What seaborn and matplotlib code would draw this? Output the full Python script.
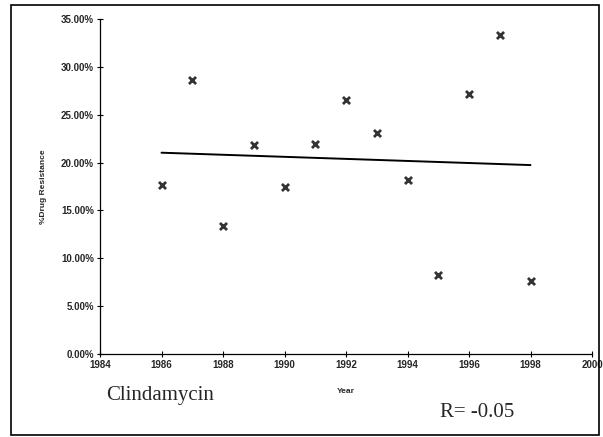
import matplotlib
matplotlib.use("Agg")
import matplotlib.pyplot as plt
import seaborn as sns
import pandas as pd
from matplotlib.ticker import PercentFormatter, MultipleLocator
from matplotlib.patches import Rectangle

years = [1986, 1987, 1988, 1989, 1990, 1991, 1992, 1993, 1994, 1995, 1996, 1997, 1998]
resistance = [0.177, 0.286, 0.134, 0.218, 0.174, 0.219, 0.265, 0.231, 0.182, 0.083, 0.272, 0.333, 0.076]
x_ticks = [1984, 1986, 1988, 1990, 1992, 1994, 1996, 1998, 2000]
drug_name = "Clindamycin"
r_text = "R= -0.05"

df = pd.DataFrame({"Year": years, "Resistance": resistance})

sns.set_style("ticks")
plt.rcParams["font.family"] = ["Liberation Sans", "DejaVu Sans"]

fig = plt.figure(figsize=(6.03, 4.37), dpi=100)
ax = fig.add_axes([100/603, (437-354)/437, (592-100)/603, (354-19)/437])

sns.regplot(data=df, x="Year", y="Resistance", ax=ax, ci=None, truncate=True,
            marker="x",
            scatter_kws=dict(s=26, color="black", linewidths=2.0),
            line_kws=dict(color="black", lw=1.4))

ax.set_xlim(1984, 2000)
ax.set_ylim(0, 0.35)
ax.set_xticks(x_ticks)
ax.yaxis.set_major_locator(MultipleLocator(0.05))
ax.yaxis.set_major_formatter(PercentFormatter(1.0, decimals=2))
ax.tick_params(direction="inout", length=5, width=0.8, labelsize=7, pad=2, color="black")
for lab in ax.get_xticklabels() + ax.get_yticklabels():
    lab.set_fontweight("bold")
ax.set_xlabel("Year", fontsize=6, fontweight="bold", labelpad=13)
ax.set_ylabel("%Drug Resistance", fontsize=6, fontweight="bold", labelpad=10)
for s in ["top", "right"]:
    ax.spines[s].set_visible(False)
for s in ["left", "bottom"]:
    ax.spines[s].set_linewidth(0.9)
    ax.spines[s].set_color("black")

fig.text(106/603, (437-400)/437, drug_name, fontsize=15, family=["Liberation Serif", "DejaVu Serif"],
         ha="left", va="baseline")
fig.text(440/603, (437-417)/437, r_text, fontsize=15, family=["Liberation Serif", "DejaVu Serif"],
         ha="left", va="baseline")

fig.patches.append(Rectangle((11/603, 2/437), (599-11)/603, (432-2)/437, transform=fig.transFigure,
                             fill=False, edgecolor="black", lw=1.2))

fig.savefig("out.png", dpi=100)
